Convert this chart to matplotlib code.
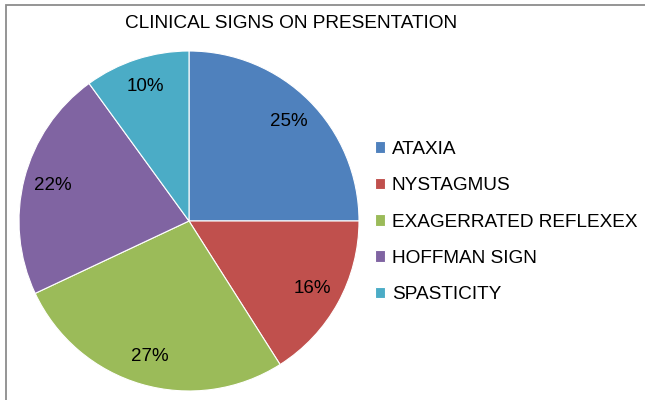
import matplotlib
matplotlib.use("Agg")
import matplotlib.pyplot as plt
from matplotlib.patches import Rectangle

plt.rcParams["font.family"] = ["Liberation Sans", "DejaVu Sans"]

labels = ["ATAXIA", "NYSTAGMUS", "EXAGERRATED REFLEXEX", "HOFFMAN SIGN", "SPASTICITY"]
shares = [25, 16, 27, 22, 10]
colors = ["#4F81BD", "#C0504D", "#9BBB59", "#8064A2", "#4BACC6"]

W, H = 645, 400
fig = plt.figure(figsize=(W / 100, H / 100), dpi=100)

# outer chart border (top and left visible, right/bottom cropped)
fig.patches.append(Rectangle((6 / W, -0.1), 1.2, (H - 5) / H + 0.1, transform=fig.transFigure,
                             fill=False, edgecolor="#8c8c8c", linewidth=1.3))

cx, cy, r = 189, 221, 170
ax = fig.add_axes([(cx - r) / W, (H - cy - r) / H, 2 * r / W, 2 * r / H])
wedges, _, autotexts = ax.pie(shares, colors=colors, startangle=90, counterclock=False,
                              autopct="%d%%", pctdistance=0.83,
                              wedgeprops={"edgecolor": "white", "linewidth": 0.8},
                              textprops={"fontsize": 13.5, "color": "black"})
ax.set_xlim(-1, 1)
ax.set_ylim(-1, 1)
ax.set_aspect("equal")

fig.text(291 / W, 1 - 24 / H, "CLINICAL SIGNS ON PRESENTATION", ha="center", va="center",
         fontsize=13.7)

fig.legend(wedges, labels, loc="center left", bbox_to_anchor=(367 / W, 1 - 222 / H),
           frameon=False, fontsize=13.7, handlelength=0.55, handleheight=0.55,
           handletextpad=0.35, labelspacing=1.02, borderaxespad=0)

fig.savefig("out.png", dpi=100, facecolor="white")
